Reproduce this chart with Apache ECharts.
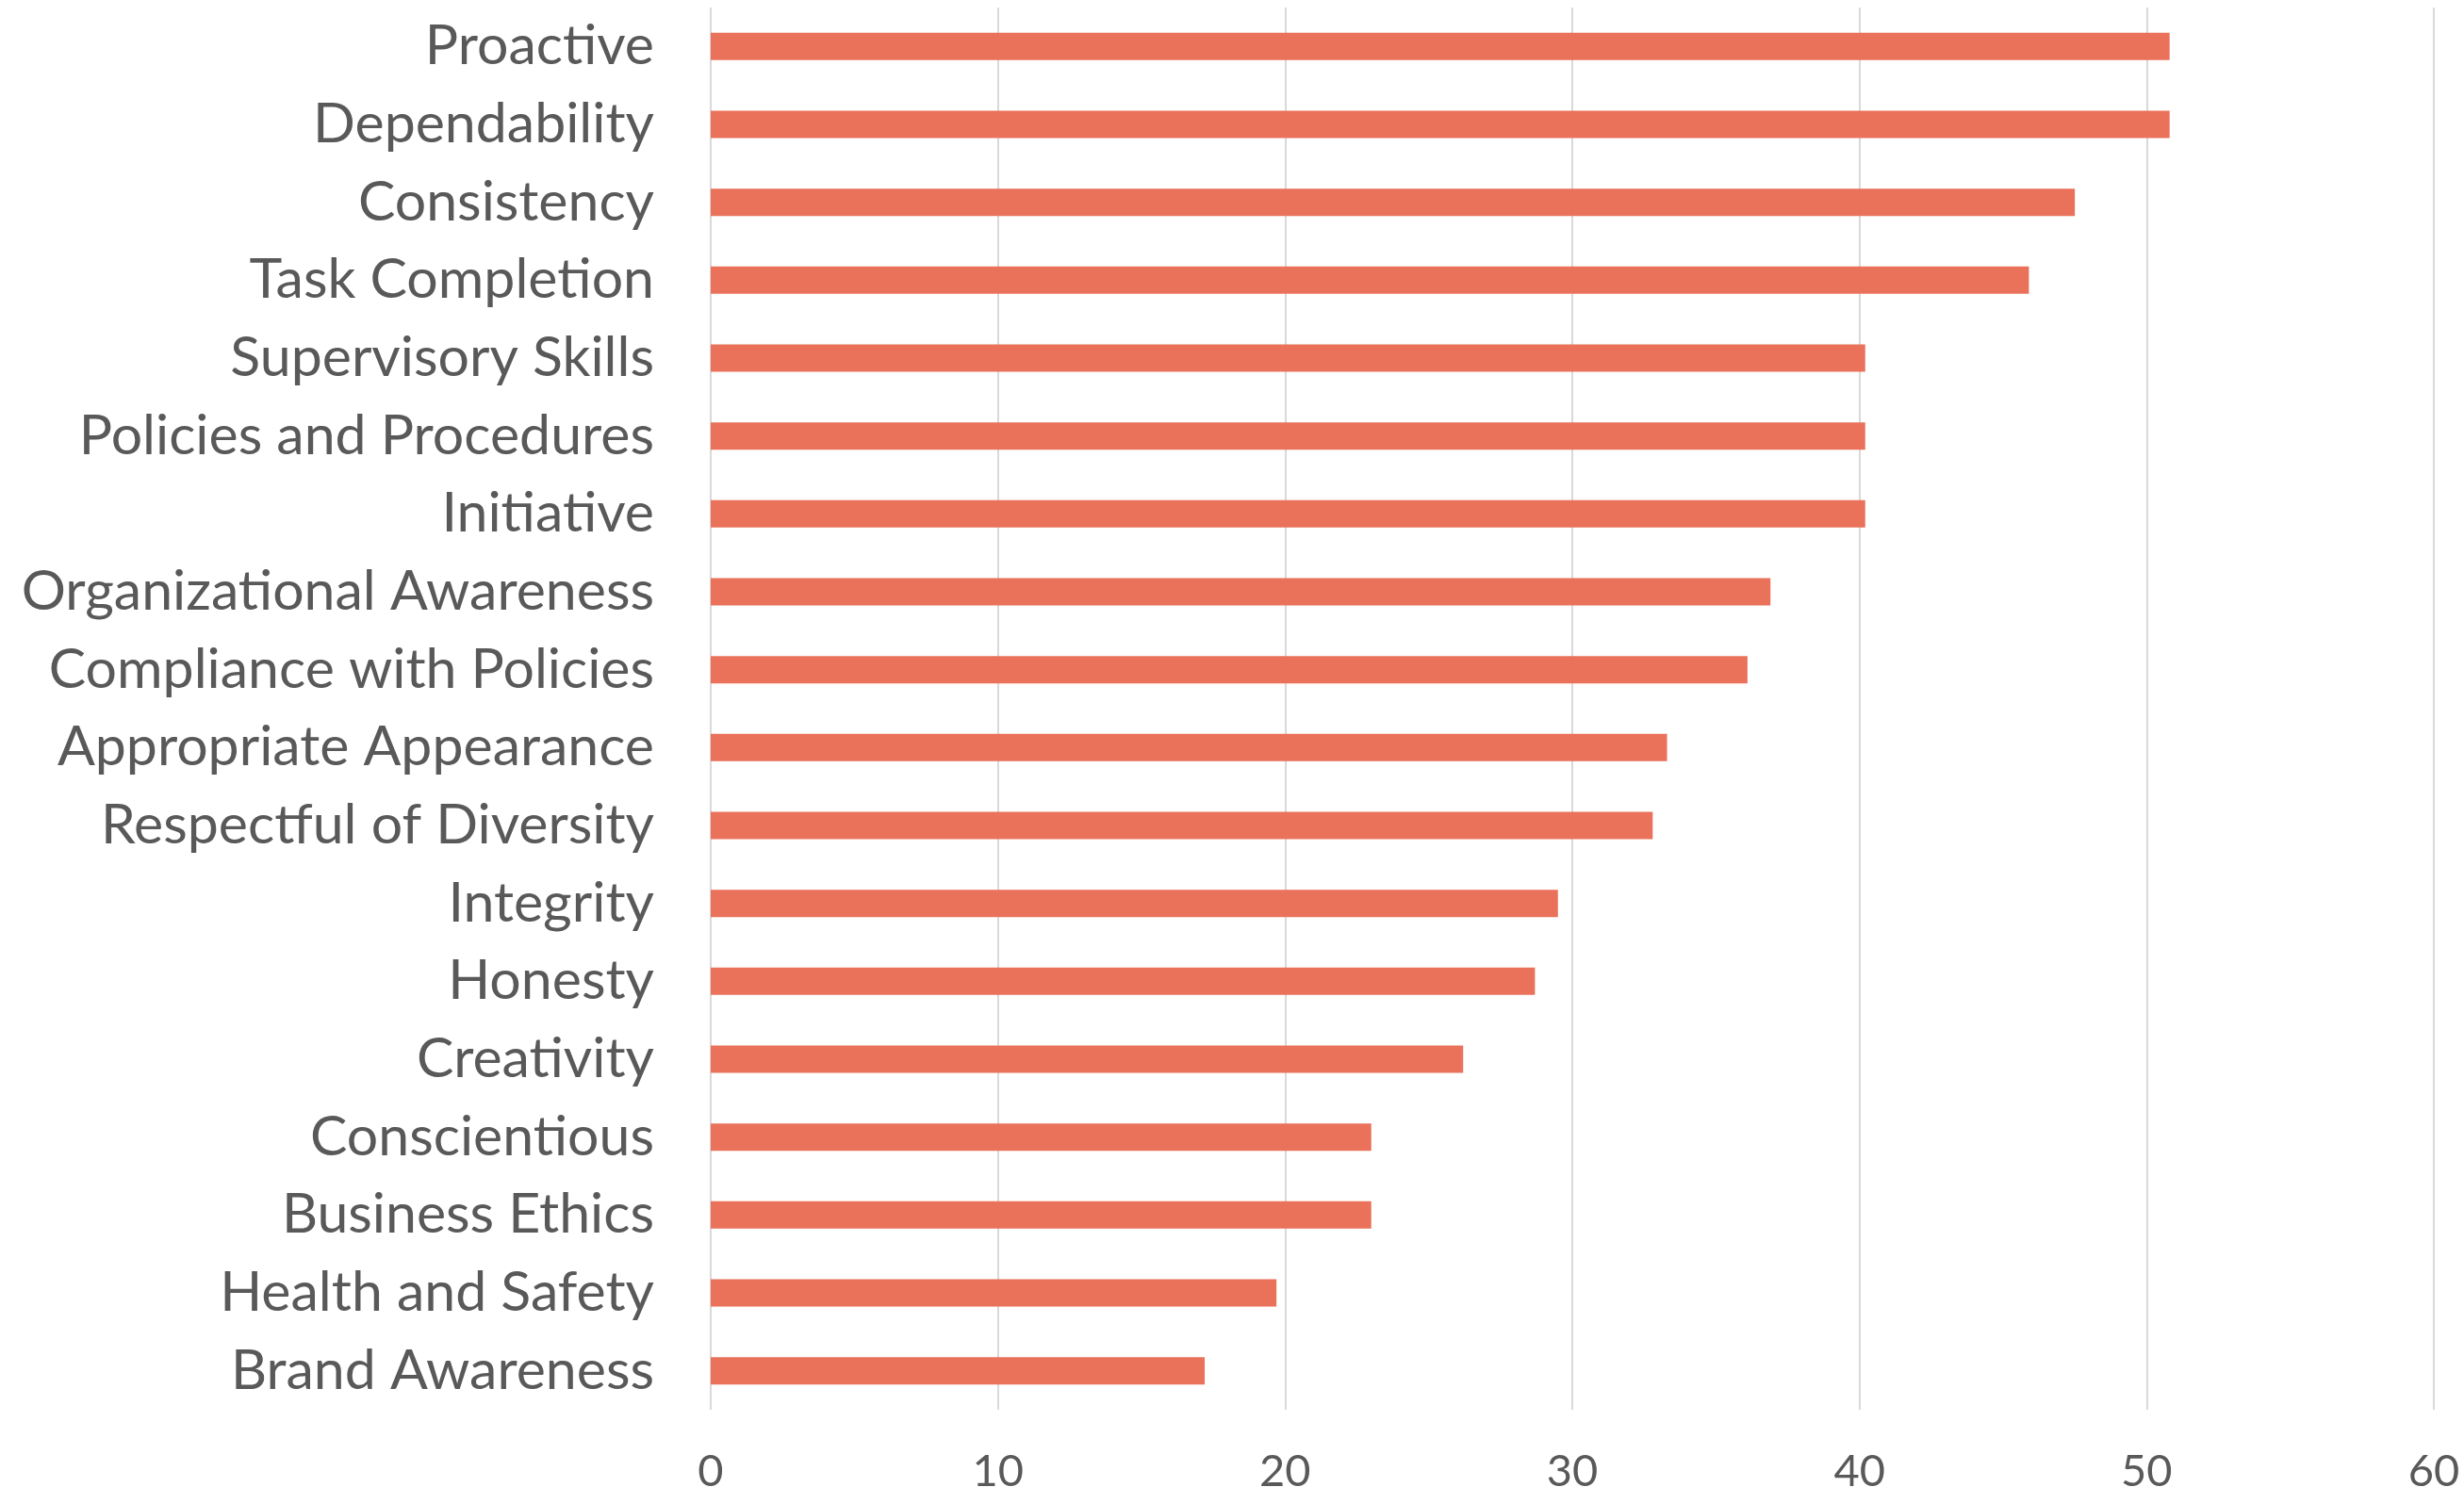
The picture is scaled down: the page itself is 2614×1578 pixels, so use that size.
<!DOCTYPE html>
<html>
<head>
<meta charset="utf-8">
<script src="https://cdn.jsdelivr.net/npm/echarts@6/dist/echarts.min.js"></script>
<style>
  html, body { margin: 0; padding: 0; background: #ffffff; }
  #chart { width: 2614px; height: 1578px; }
</style>
</head>
<body>
<div id="chart"></div>
<script>
// Competency categories, listed bottom to top as the category axis draws them
const categories = [
  'Brand Awareness',
  'Health and Safety',
  'Business Ethics',
  'Conscientious',
  'Creativity',
  'Honesty',
  'Integrity',
  'Respectful of Diversity',
  'Appropriate Appearance',
  'Compliance with Policies',
  'Organizational Awareness',
  'Initiative',
  'Policies and Procedures',
  'Supervisory Skills',
  'Task Completion',
  'Consistency',
  'Dependability',
  'Proactive'
];

// Score for each category, same order
const values = [
  17.2, 19.7, 23.0, 23.0, 26.2, 28.7, 29.5, 32.8, 33.3,
  36.1, 36.9, 40.2, 40.2, 40.2, 45.9, 47.5, 50.8, 50.8
];

// Value axis ticks
const xMin = 0;
const xMax = 60;
const xStep = 10;

const fontFamily = 'Lato, "Noto Sans", sans-serif';
const textColor = '#595959';
const gridColor = '#d9d9d9';
const barColor = '#ea715a';

const chart = echarts.init(document.getElementById('chart'), null, { renderer: 'canvas' });

chart.setOption({
  animation: false,
  backgroundColor: '#ffffff',
  grid: {
    left: 754,
    right: 32,
    top: 8,
    bottom: 82,
    containLabel: false,
    outerBoundsMode: 'none'
  },
  xAxis: {
    type: 'value',
    min: xMin,
    max: xMax,
    interval: xStep,
    axisLine: { show: false },
    axisTick: { show: false },
    splitLine: { show: true, lineStyle: { color: gridColor, width: 2 } },
    axisLabel: {
      color: textColor,
      fontFamily: fontFamily,
      fontSize: 47,
      margin: 42
    }
  },
  yAxis: {
    type: 'category',
    data: categories,
    axisLine: { show: false },
    axisTick: { show: false },
    splitLine: { show: false },
    axisLabel: {
      color: textColor,
      fontFamily: fontFamily,
      fontSize: 59,
      margin: 60
    }
  },
  series: [{
    type: 'bar',
    data: values,
    barWidth: 29,
    itemStyle: { color: barColor },
    silent: true
  }]
});
</script>
</body>
</html>
